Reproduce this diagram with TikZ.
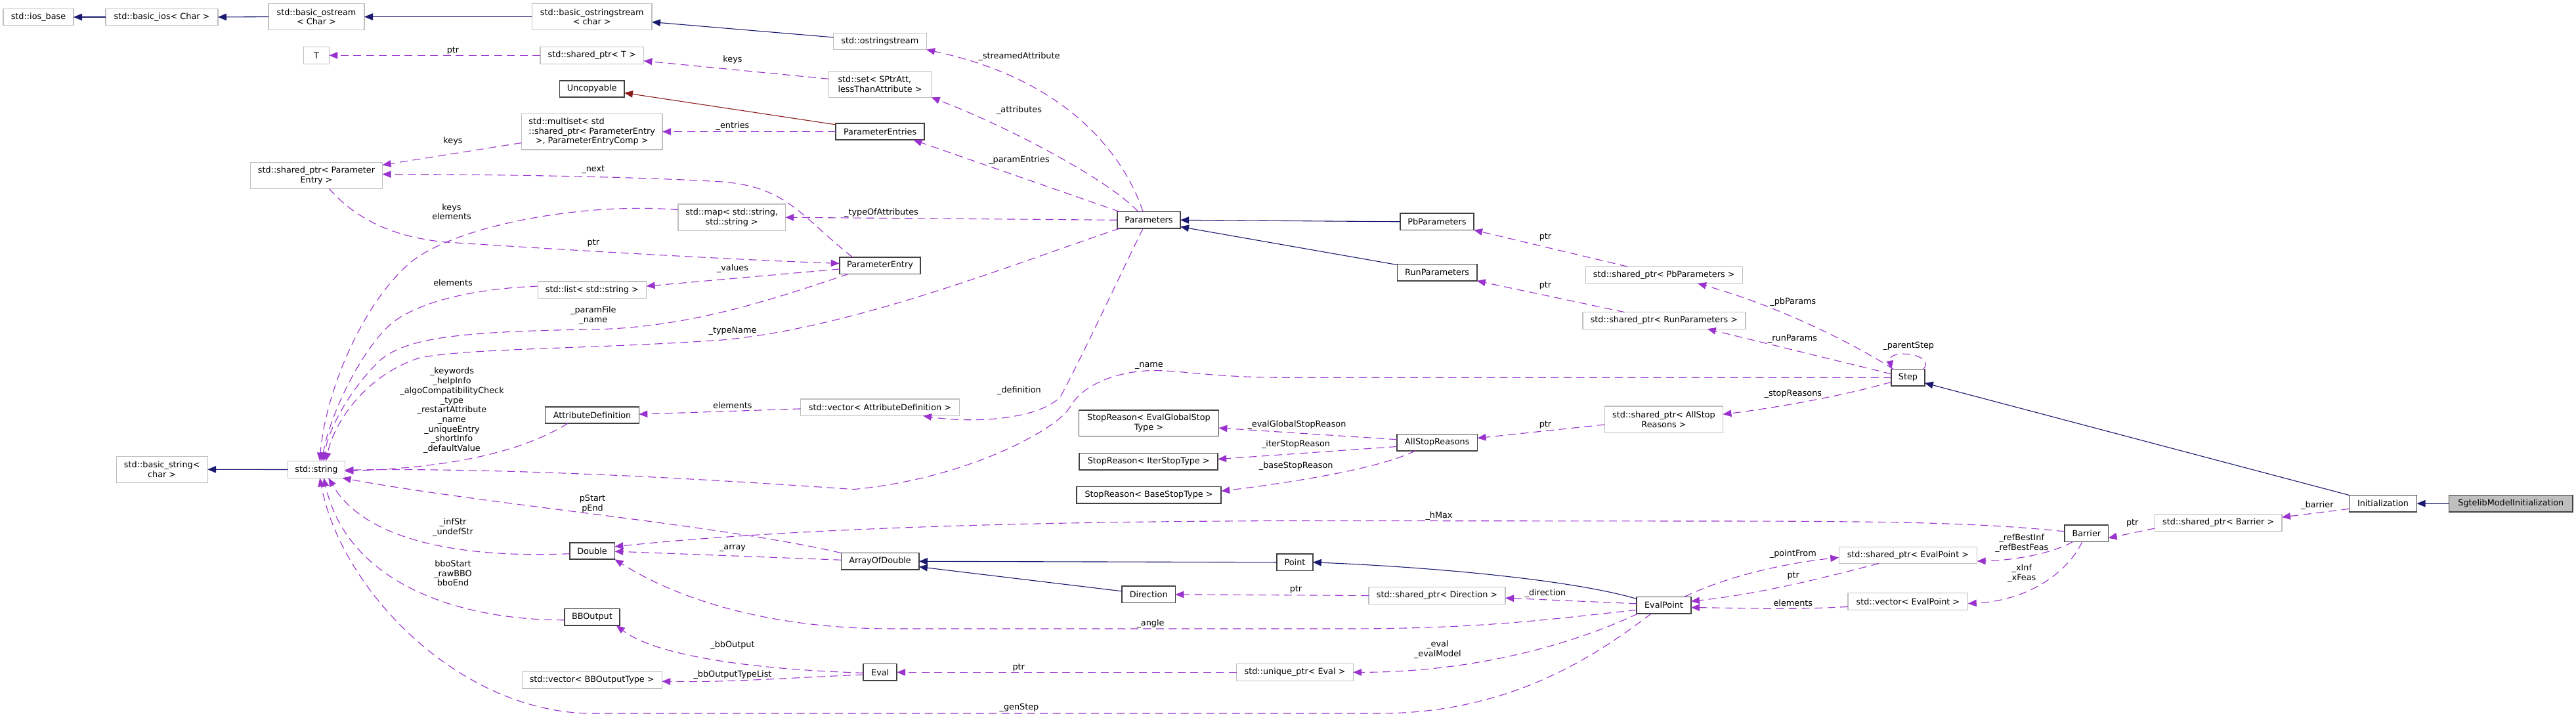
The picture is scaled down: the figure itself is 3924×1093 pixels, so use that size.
\documentclass[tikz,border=0pt]{standalone}
\usepackage{fontspec}
\setmainfont{DejaVu Sans}
\usetikzlibrary{arrows.meta}
\definecolor{inhblue}{HTML}{191970}
\definecolor{usepurple}{HTML}{9A32CD}
\definecolor{privred}{HTML}{8B1A1A}
\definecolor{extgray}{HTML}{BFBFBF}
\definecolor{clsborder}{HTML}{404040}
\definecolor{selfill}{HTML}{BFBFBF}
\newcommand\dfont{\fontsize{12.8pt}{14.7pt}\selectfont}
\begin{document}
\begin{tikzpicture}[x=1pt,y=-1pt,
  bx/.style 2 args={minimum width=#1pt, minimum height=#2pt},
  ext/.style={draw=extgray, line width=1.2pt, fill=white, inner sep=0pt, outer sep=0pt, align=center, font=\dfont, text=black},
  cls/.style={ext, draw=clsborder, line width=1.6pt},
  sel/.style={cls, fill=selfill},
  lbl/.style={inner sep=0pt, outer sep=0pt, align=center, font=\dfont, text=black},
  tipstyle/.style={-{Triangle[length=13pt,width=10.5pt]}},
  inh/.style={draw=inhblue, line width=1.1pt, tipstyle},
  priv/.style={draw=privred, line width=1.1pt, tipstyle},
  usg/.style={draw=usepurple, line width=1.1pt, dash pattern=on 12pt off 7.5pt, tipstyle}
]
\useasboundingbox (0,0) rectangle (3924,1093);

% ---------------- nodes ----------------
\node[ext, bx={107}{25.3}] (iosbase) at (58.5,26) {std::ios\_base};
\node[ext, bx={171}{25.3}] (basicios) at (246.5,26) {std::basic\_ios< Char >};
\node[ext, bx={146}{40}] (basicostream) at (482,25.6) {std::basic\_ostream\\< Char >};
\node[ext, bx={38.7}{25.6}] (T) at (482,84.4) {T};
\node[ext, bx={201}{40}] (spPE) at (482,267.3) {std::shared\_ptr< Parameter\\Entry >};
\node[ext, bx={182.6}{40}] (basicostringstream) at (901.7,25.6) {std::basic\_ostringstream\\< char >};
\node[ext, bx={157.4}{25.6}] (spT) at (901.7,84.4) {std::shared\_ptr< T >};
\node[cls, bx={98.5}{25.3}] (Uncopyable) at (901.7,135.4) {Uncopyable};
\node[ext, bx={214.6}{54.7}] (multiset) at (901.7,200.6) {\rlap{std::multiset< std}\phantom{::shared\_ptr< ParameterEntry}\\::shared\_ptr< ParameterEntry\\>, ParameterEntryComp >};
\node[ext, bx={163.3}{40.4}] (map) at (1114.7,331.2) {std::map< std::string,\\std::string >};
\node[ext, bx={165.4}{25.6}] (list) at (901.9,441.8) {std::list< std::string >};
\node[ext, bx={141.6}{25.3}] (ostringstream) at (1340.3,63.1) {std::ostringstream};
\node[ext, bx={156.3}{39.7}] (set) at (1340.5,128.5) {\rlap{std::set< SPtrAtt,}\phantom{lessThanAttribute >}\\lessThanAttribute >};
\node[cls, bx={135.2}{25.3}] (ParameterEntries) at (1340.6,200.6) {ParameterEntries};
\node[cls, bx={123.5}{25.6}] (ParameterEntry) at (1340.5,404.6) {ParameterEntry};
\node[cls, bx={96}{25.3}] (Parameters) at (1750,335.3) {Parameters};
\node[cls, bx={112.3}{25.3}] (PbParameters) at (2188.9,337.8) {PbParameters};
\node[cls, bx={121.2}{25.3}] (RunParameters) at (2189.1,415.3) {RunParameters};
\node[ext, bx={239.2}{25.6}] (spPb) at (2534.7,419) {std::shared\_ptr< PbParameters >};
\node[ext, bx={248}{25.6}] (spRun) at (2534.9,488.4) {std::shared\_ptr< RunParameters >};
\node[cls, bx={50.5}{25.4}] (Step) at (2906.5,575.3) {Step};
\node[ext, bx={179.8}{40.2}] (spASR) at (2534.5,639.1) {std::shared\_ptr< AllStop\\Reasons >};
\node[cls, bx={122.5}{25.4}] (AllStopReasons) at (2189.3,674) {AllStopReasons};
\node[cls, bx={213}{39.8}] (SREG) at (1749.9,644.6) {StopReason< EvalGlobalStop\\Type >};
\node[cls, bx={210.9}{25.4}] (SRIter) at (1749.7,703.3) {StopReason< IterStopType >};
\node[cls, bx={220.5}{25.4}] (SRBase) at (1750,754.1) {StopReason< BaseStopType >};
\node[ext, bx={139}{40.2}] (basicstring) at (246.7,715.3) {std::basic\_string<\\char >};
\node[ext, bx={86.7}{25.7}] (string) at (482,715.5) {std::string};
\node[cls, bx={142.7}{25.4}] (AttributeDefinition) at (902,632.4) {AttributeDefinition};
\node[ext, bx={241.7}{25.5}] (vecAD) at (1340.4,620.8) {std::vector< AttributeDefinition >};
\node[cls, bx={68.6}{25.4}] (Double) at (902,839.5) {Double};
\node[cls, bx={118.5}{25.4}] (ArrayOfDouble) at (1340.6,855.3) {ArrayOfDouble};
\node[cls, bx={83.8}{25.4}] (BBOutput) at (901.9,940.3) {BBOutput};
\node[ext, bx={213}{25.4}] (vecBBOT) at (901.7,1036.3) {std::vector< BBOutputType >};
\node[cls, bx={54.5}{25.4}] (Point) at (1972.5,856.7) {Point};
\node[cls, bx={81.2}{25.4}] (Direction) at (1749.7,905.8) {Direction};
\node[cls, bx={50.9}{25.7}] (Eval) at (1340.7,1024.4) {Eval};
\node[ext, bx={177.3}{25.7}] (upEval) at (1972.5,1024.4) {std::unique\_ptr< Eval >};
\node[ext, bx={208}{25.4}] (spDir) at (2189,907.5) {std::shared\_ptr< Direction >};
\node[cls, bx={82.9}{25.4}] (EvalPoint) at (2534.5,922) {EvalPoint};
\node[ext, bx={210.4}{25.4}] (spEP) at (2906.4,845.8) {std::shared\_ptr< EvalPoint >};
\node[ext, bx={182.7}{25.4}] (vecEP) at (2906.4,916.4) {std::vector< EvalPoint >};
\node[cls, bx={66.5}{25.4}] (Barrier) at (3178.3,812.7) {Barrier};
\node[ext, bx={193.6}{26.1}] (spBarrier) at (3379.2,796.5) {std::shared\_ptr< Barrier >};
\node[cls, bx={103}{25.4}] (Initialization) at (3630,767.2) {Initialization};
\node[sel, bx={188.5}{25.4}] (Sgtelib) at (3824.8,767.2) {SgtelibModelInitialization};

% ---------------- inheritance ----------------
\draw[inh] (basicios.west) -- (iosbase.east);
\draw[inh] (basicostream.west) -- (basicios.east);
\draw[inh] (basicostringstream.west) -- (basicostream.east);
\draw[inh] (ostringstream.175) -- (basicostringstream.-5.5);
\draw[priv] (ParameterEntries.171.5) -- (Uncopyable.-7.6);
\draw[inh] (PbParameters.west) -- (Parameters.east);
\draw[inh] (RunParameters.169.4) -- (Parameters.-12);
\draw[inh] (string.west) -- (basicstring.east);
\draw[inh] (Point.west) -- (ArrayOfDouble.east);
\draw[inh] (Direction.173) -- (ArrayOfDouble.-8.2);
\draw[inh] (EvalPoint.167.5) .. controls (2400,885) and (2200,865) .. (Point.east);
\draw[inh] (Initialization.north west) -- (Step.-18);
\draw[inh] (Sgtelib.west) -- (Initialization.east);

% ---------------- usage ----------------
\draw[usg] (spT.west) -- (T.east);
\draw[usg] (set.174) -- (spT.-6.2);
\draw[usg] (multiset.189) -- (spPE.9.9);
\draw[usg] (ParameterEntries.west) -- (multiset.east);
\draw[usg] (ParameterEntry.163.2) .. controls (1220,330) and (1200,285) .. (1100,277) .. controls (950,268) and (700,265.5) .. (spPE.1);
\draw[usg] (map.172.1) .. controls (900,308) and (700,340) .. (625,400) .. controls (550,465) and (495,600) .. (string.68.7);
\draw[usg] (list.176.5) .. controls (720,440) and (640,460) .. (600,490) .. controls (560,520) and (505,620) .. (string.58.1);
\draw[usg] (ParameterEntry.195.4) .. controls (1180,455) and (1050,500) .. (900,502) .. controls (700,505) and (620,515) .. (580,548) .. controls (540,585) and (500,650) .. (string.49.4);
\draw[usg] (Parameters.196) .. controls (1550,400) and (1300,500) .. (1100,518) .. controls (900,532) and (720,530) .. (640,545) .. controls (560,570) and (510,640) .. (string.42.5);
\draw[usg] (spPE.-46.8) .. controls (530,320) and (580,360) .. (680,369) .. controls (850,380) and (1100,395) .. (ParameterEntry.177.6);
\draw[usg] (ParameterEntry.185.4) -- (list.4.7);
\draw[usg] (Parameters.west) -- (map.east);
\draw[usg] (Parameters.164.6) -- (ParameterEntries.-14.8);
\draw[usg] (Parameters.142.5) .. controls (1690,275) and (1540,195) .. (set.south east);
\draw[usg] (Parameters.125.4) .. controls (1710,230) and (1620,120) .. (ostringstream.south east);
\draw[usg] (Parameters.-125.4) .. controls (1700,432) and (1650,540) .. (1615,605) .. controls (1580,640) and (1480,645) .. (vecAD.-11);
\draw[usg] (vecAD.181.3) -- (AttributeDefinition.1.4);
\draw[usg] (AttributeDefinition.199.8) .. controls (800,685) and (700,712) .. (string.-3.4);
\draw[usg] (Step.west) -- (1960,575.3) .. controls (1840,575.3) and (1790,562) .. (1745,565) .. controls (1700,568) and (1650,585) .. (1630,620) .. controls (1610,655) and (1470,730) .. (1300,745.6) .. controls (1150,735) and (800,712) .. (string.-1);
\draw[usg] (Step.29.4) .. controls (2952,540) and (2875,530) .. (Step.north west);
\draw[usg] (Step.150) .. controls (2830,528) and (2720,470) .. (spPb.-14);
\draw[usg] (Step.168) -- (spRun.-11.5);
\draw[usg] (Step.-165) .. controls (2800,605) and (2700,622) .. (spASR.5.8);
\draw[usg] (spPb.167.2) -- (PbParameters.south east);
\draw[usg] (spRun.168.1) -- (RunParameters.south east);
\draw[usg] (spASR.185.5) -- (AllStopReasons.6.5);
\draw[usg] (AllStopReasons.176.1) -- (SREG.-4.5);
\draw[usg] (AllStopReasons.186) -- (SRIter.2.9);
\draw[usg] (AllStopReasons.201) .. controls (2100,715) and (1960,736) .. (SRBase.3.9);
\draw[usg] (Barrier.175) .. controls (3020,797) and (2900,794) .. (2600,794) -- (1960,793.5) .. controls (1500,795) and (1180,808) .. (Double.11);
\draw[usg] (ArrayOfDouble.178.8) -- (Double.-1.7);
\draw[usg] (EvalPoint.190.6) .. controls (2350,945) and (2250,958) .. (2050,958) -- (1350,958) .. controls (1150,956) and (1020,905) .. (Double.south east);
\draw[usg] (ArrayOfDouble.north west) .. controls (1100,800) and (750,770) .. (string.-18);
\draw[usg] (Double.187.1) .. controls (720,850) and (560,830) .. (string.-35.5);
\draw[usg] (BBOutput.186.4) .. controls (700,945) and (530,890) .. (string.-49.4);
\draw[usg] (EvalPoint.214.5) .. controls (2430,1000) and (2300,1087) .. (2100,1087) -- (900,1087) .. controls (700,1085) and (520,900) .. (string.-68.7);
\draw[usg] (Eval.182) .. controls (1150,1020) and (1000,1000) .. (BBOutput.-19);
\draw[usg] (Eval.188) .. controls (1200,1033) and (1100,1040) .. (vecBBOT.-1.5);
\draw[usg] (upEval.west) -- (Eval.east);
\draw[usg] (EvalPoint.198.8) .. controls (2400,980) and (2250,1024) .. (upEval.east);
\draw[usg] (EvalPoint.177.1) -- (spDir.-2.1);
\draw[usg] (spDir.west) -- (Direction.east);
\draw[usg] (EvalPoint.22.9) .. controls (2630,878) and (2720,858) .. (spEP.182);
\draw[usg] (spEP.196) .. controls (2780,880) and (2680,905) .. (EvalPoint.8);
\draw[usg] (vecEP.185.7) .. controls (2720,930) and (2640,926) .. (EvalPoint.-5.8);
\draw[usg] (Barrier.-148.4) .. controls (3120,846) and (3060,854) .. (spEP.-5);
\draw[usg] (Barrier.-117.8) .. controls (3150,872) and (3090,915) .. (vecEP.-2.4);
\draw[usg] (spBarrier.185) -- (Barrier.-12);
\draw[usg] (Initialization.189.3) -- (spBarrier.5.7);

% ---------------- labels ----------------
\node[lbl] (l01) at (690,77.2) {ptr};
\node[lbl] (l02) at (1116,90.5) {keys};
\node[lbl] (l03) at (1116,192.6) {\_entries};
\node[lbl] (l04) at (690,214.7) {keys};
\node[lbl] (l05) at (903.8,258.5) {\_next};
\node[lbl] (l06) at (688,322.7) {keys\\elements};
\node[lbl] (l07) at (903.8,370.7) {ptr};
\node[lbl] (l08) at (1116,409.3) {\_values};
\node[lbl] (l09) at (690,430.4) {elements};
\node[lbl] (l10) at (903.8,480.5) {\_paramFile\\\_name};
\node[lbl] (l11) at (1116,504.4) {\_typeName};
\node[lbl] (l12) at (1552.5,86.3) {\_streamedAttribute};
\node[lbl] (l13) at (1552.5,168.4) {\_attributes};
\node[lbl] (l14) at (1552.5,244.5) {\_paramEntries};
\node[lbl] (l15) at (1342.5,324.4) {\_typeOfAttributes};
\node[lbl] (l16) at (2354,361.3) {ptr};
\node[lbl] (l17) at (2354,435) {ptr};
\node[lbl] (l18) at (2731.3,460.5) {\_pbParams};
\node[lbl] (l19) at (2730.5,516.7) {\_runParams};
\node[lbl] (l20) at (2907.3,527) {\_parentStep};
\node[lbl] (l21) at (2731.3,600.7) {\_stopReasons};
\node[lbl] (l22) at (3079.8,827.5) {\_refBestInf\\\_refBestFeas};
\node[lbl] (l23) at (3079.8,873.3) {\_xInf\\\_xFeas};
\node[lbl] (l24) at (2731.3,844.4) {\_pointFrom};
\node[lbl] (l25) at (2731.7,876.9) {ptr};
\node[lbl] (l26) at (2731.3,918.5) {elements};
\node[lbl] (l27) at (3248.2,797.5) {ptr};
\node[lbl] (l28) at (3529.8,770) {\_barrier};
\node[lbl] (l29) at (688.5,625.4) {\_keywords\\\_helpInfo\\\_algoCompatibilityCheck\\\_type\\\_restartAttribute\\\_name\\\_uniqueEntry\\\_shortInfo\\\_defaultValue};
\node[lbl] (l30) at (1115.9,617.6) {elements};
\node[lbl] (l31) at (902.5,767.5) {pStart\\pEnd};
\node[lbl] (l32) at (690,803.5) {\_infStr\\\_undefStr};
\node[lbl] (l33) at (1116,835.2) {\_array};
\node[lbl] (l34) at (690,873.3) {bboStart\\\_rawBBO\\bboEnd};
\node[lbl] (l35) at (1116,982.7) {\_bbOutput};
\node[lbl] (l36) at (1116,1028.5) {\_bbOutputTypeList};
\node[lbl] (l37) at (1750.4,557.6) {\_name};
\node[lbl] (l38) at (1552.5,594.7) {\_definition};
\node[lbl] (l39) at (1975.4,646.9) {\_evalGlobalStopReason};
\node[lbl] (l40) at (1974,677.6) {\_iterStopReason};
\node[lbl] (l41) at (1974.2,709.7) {\_baseStopReason};
\node[lbl] (l42) at (1752.5,949.9) {\_angle};
\node[lbl] (l43) at (1551.7,1016.9) {ptr};
\node[lbl] (l44) at (1552.5,1078.6) {\_genStep};
\node[lbl] (l45) at (2354,646.9) {ptr};
\node[lbl] (l46) at (2192,785.9) {\_hMax};
\node[lbl] (l47) at (1974,898) {ptr};
\node[lbl] (l48) at (2354,904.4) {\_direction};
\node[lbl] (l49) at (2189.9,989.7) {\_eval\\\_evalModel};
\end{tikzpicture}
\end{document}
